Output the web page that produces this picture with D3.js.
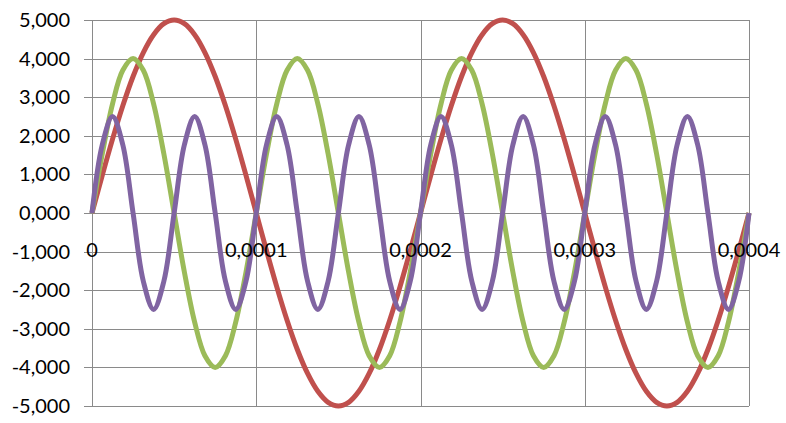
<!DOCTYPE html>
<html>
<head>
<meta charset="utf-8">
<script src="https://cdn.jsdelivr.net/npm/d3@7"></script>
<style>
  html, body { margin: 0; padding: 0; background: #fff; }
  svg text { font-family: Lato, "Open Sans", sans-serif; font-size: 20px; fill: #000; }
</style>
</head>
<body>
<svg id="chart" width="786" height="423"></svg>
<script>
// time step 0,00000625 s, 65 samples from 0 to 0,0004
const times = d3.range(65).map(k => k * 0.00000625);

const redValues = [
  0, 0.975, 1.913, 2.778, 3.536, 4.157, 4.619, 4.904, 5, 4.904, 4.619, 4.157, 3.536, 2.778, 1.913, 0.975,
  0, -0.975, -1.913, -2.778, -3.536, -4.157, -4.619, -4.904, -5, -4.904, -4.619, -4.157, -3.536, -2.778, -1.913, -0.975,
  0, 0.975, 1.913, 2.778, 3.536, 4.157, 4.619, 4.904, 5, 4.904, 4.619, 4.157, 3.536, 2.778, 1.913, 0.975,
  0, -0.975, -1.913, -2.778, -3.536, -4.157, -4.619, -4.904, -5, -4.904, -4.619, -4.157, -3.536, -2.778, -1.913, -0.975,
  0
];

const greenValues = [
  0, 1.531, 2.828, 3.696, 4, 3.696, 2.828, 1.531, 0, -1.531, -2.828, -3.696, -4, -3.696, -2.828, -1.531,
  0, 1.531, 2.828, 3.696, 4, 3.696, 2.828, 1.531, 0, -1.531, -2.828, -3.696, -4, -3.696, -2.828, -1.531,
  0, 1.531, 2.828, 3.696, 4, 3.696, 2.828, 1.531, 0, -1.531, -2.828, -3.696, -4, -3.696, -2.828, -1.531,
  0, 1.531, 2.828, 3.696, 4, 3.696, 2.828, 1.531, 0, -1.531, -2.828, -3.696, -4, -3.696, -2.828, -1.531,
  0
];

const purpleValues = [
  0, 1.768, 2.5, 1.768, 0, -1.768, -2.5, -1.768, 0, 1.768, 2.5, 1.768, 0, -1.768, -2.5, -1.768,
  0, 1.768, 2.5, 1.768, 0, -1.768, -2.5, -1.768, 0, 1.768, 2.5, 1.768, 0, -1.768, -2.5, -1.768,
  0, 1.768, 2.5, 1.768, 0, -1.768, -2.5, -1.768, 0, 1.768, 2.5, 1.768, 0, -1.768, -2.5, -1.768,
  0, 1.768, 2.5, 1.768, 0, -1.768, -2.5, -1.768, 0, 1.768, 2.5, 1.768, 0, -1.768, -2.5, -1.768,
  0
];

const yTicks = [-5, -4, -3, -2, -1, 0, 1, 2, 3, 4, 5];
const xTicks = [0, 0.0001, 0.0002, 0.0003, 0.0004];
const xTickLabels = ["0", "0,0001", "0,0002", "0,0003", "0,0004"];

const series = [
  { name: "red", values: redValues, color: "#c0504d" },
  { name: "green", values: greenValues, color: "#9bbb59" },
  { name: "purple", values: purpleValues, color: "#8064a2" }
];

const margin = { top: 20, right: 37, bottom: 17, left: 92 };
const width = 786, height = 423;
const innerWidth = width - margin.left - margin.right;
const innerHeight = height - margin.top - margin.bottom;

const svg = d3.select("#chart");
const g = svg.append("g").attr("transform", `translate(${margin.left},${margin.top})`);

const x = d3.scaleLinear().domain([0, 0.0004]).range([0, innerWidth]);
const y = d3.scaleLinear().domain([-5, 5]).range([innerHeight, 0]);

const locale = d3.formatLocale({ decimal: ",", thousands: ".", grouping: [3], currency: ["", ""], minus: "-" });
const fmtY = locale.format(".3f");

// horizontal gridlines (with the little tick stub on the left)
g.append("g")
  .selectAll("line")
  .data(yTicks)
  .join("line")
  .attr("x1", -8)
  .attr("x2", innerWidth)
  .attr("y1", d => Math.round(y(d)) + 0.5)
  .attr("y2", d => Math.round(y(d)) + 0.5)
  .attr("stroke", "#8a8a8a")
  .attr("stroke-width", 1);

// vertical gridlines
g.append("g")
  .selectAll("line")
  .data(xTicks)
  .join("line")
  .attr("x1", d => Math.round(x(d)) + 0.5)
  .attr("x2", d => Math.round(x(d)) + 0.5)
  .attr("y1", 0)
  .attr("y2", innerHeight)
  .attr("stroke", "#8a8a8a")
  .attr("stroke-width", 1);

const line = d3.line()
  .curve(d3.curveCatmullRom.alpha(0.5))
  .x((d, i) => x(times[i]))
  .y(d => y(d));

g.append("g")
  .selectAll("path")
  .data(series)
  .join("path")
  .attr("fill", "none")
  .attr("stroke", d => d.color)
  .attr("stroke-width", 5)
  .attr("stroke-linejoin", "round")
  .attr("d", d => line(d.values));

// y labels
g.append("g")
  .selectAll("text")
  .data(yTicks)
  .join("text")
  .attr("x", -22)
  .attr("y", d => y(d))
  .attr("dy", "0.35em")
  .attr("text-anchor", "end")
  .text(d => fmtY(d));

// x labels, sitting under the zero line, drawn over the series like Excel does
g.append("g")
  .selectAll("text")
  .data(xTicks)
  .join("text")
  .attr("x", d => x(d))
  .attr("y", y(0) + 44)
  .attr("text-anchor", "middle")
  .text((d, i) => xTickLabels[i]);
</script>
</body>
</html>
